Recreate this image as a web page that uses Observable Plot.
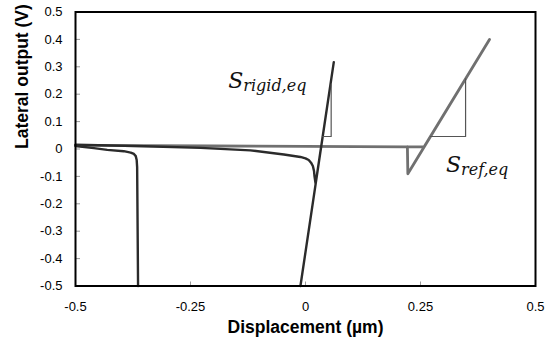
<!DOCTYPE html>
<html><head><meta charset="utf-8">
<script src="https://cdn.jsdelivr.net/npm/d3@7"></script>
<script src="https://cdn.jsdelivr.net/npm/@observablehq/plot@0.6"></script>
<style>html,body{margin:0;padding:0;background:#fff}</style>
</head><body><div id="chart"></div>
<script>
// Tick values
const xTicks = [-0.5, -0.25, 0, 0.25, 0.5];
const yTicks = [-0.5, -0.4, -0.3, -0.2, -0.1, 0, 0.1, 0.2, 0.3, 0.4, 0.5];

// Reference (gray) curve: approach, snap, rise, return
const refX = [-0.5, -0.2, 0.2215, 0.2225, 0.400, 0.258, 0.222];
const refY = [0.013, 0.011, 0.008, -0.0905, 0.400, 0.008, 0.008];

// Rigid (dark) curve: approach, snap-in, steep rise, retract
const rigidX = [-0.5, -0.35, -0.228, -0.12, -0.047, -0.011, 0.000, 0.007, 0.012, 0.0160, 0.0185, 0.0196, 0.022, 0.0615, -0.011];
const rigidY = [0.016, 0.010, 0.004, -0.005, -0.020, -0.029, -0.034, -0.040, -0.050, -0.062, -0.080, -0.100, -0.127, 0.317, -0.5];

// Left dark curve
const leftX = [-0.5, -0.46, -0.431, -0.395, -0.380, -0.373, -0.369, -0.367, -0.366, -0.364];
const leftY = [0.011, 0.003, -0.003, -0.008, -0.013, -0.018, -0.026, -0.040, -0.066, -0.5];

// Slope triangles
const triRigidX = [0.0374, 0.0558, 0.0558];
const triRigidY = [0.0456, 0.0456, 0.235];
const triRefX = [0.2718, 0.348, 0.348];
const triRefY = [0.0456, 0.0456, 0.256];

// Annotation labels
const labelMain = ["S", "S"];
const labelSub = ["rigid,eq", "ref,eq"];
const labelX = [-0.167, 0.3065];
const labelY = [0.221, -0.086];

const toPts = (xs, ys) => xs.map((x, i) => ({x, y: ys[i]}));

const chart = Plot.plot({
  width: 551,
  height: 349,
  marginLeft: 75,
  marginRight: 16,
  marginTop: 11.5,
  marginBottom: 63.5,
  style: {fontFamily: "'Liberation Sans', Arial, sans-serif", background: "#fff", color: "#000"},
  x: {domain: [-0.5, 0.5]},
  y: {domain: [-0.5, 0.5]},
  marks: [
    // inward ticks
    Plot.axisX({ticks: xTicks, tickSize: -4, stroke: "#999", tickFormat: () => "", label: null}),
    Plot.axisY({ticks: yTicks, tickSize: -5, stroke: "#999", tickFormat: () => "", label: null}),
    // tick labels
    Plot.axisX({ticks: xTicks, tickSize: 0, tickPadding: 16, fontSize: 13, tickFormat: d => String(d), label: null}),
    Plot.axisY({ticks: yTicks, tickSize: 0, tickPadding: 13, fontSize: 13, tickFormat: d => String(d), label: null}),
    // data
    Plot.line(toPts(refX, refY), {x: "x", y: "y", stroke: "#707070", strokeWidth: 2.8}),
    Plot.line(toPts(leftX, leftY), {x: "x", y: "y", stroke: "#2b2b2b", strokeWidth: 2.4}),
    Plot.line(toPts(rigidX, rigidY), {x: "x", y: "y", stroke: "#2b2b2b", strokeWidth: 2.4}),
    Plot.line(toPts(triRigidX, triRigidY), {x: "x", y: "y", stroke: "#555", strokeWidth: 1.2}),
    Plot.line(toPts(triRefX, triRefY), {x: "x", y: "y", stroke: "#555", strokeWidth: 1.2}),
    Plot.frame({stroke: "#000", strokeWidth: 2}),
    // axis titles
    Plot.text(["Displacement (µm)"], {frameAnchor: "bottom", dy: 47, fontSize: 17.5, fontWeight: "bold"}),
    Plot.text(["Lateral output (V)"], {frameAnchor: "left", dx: -53, rotate: -90, fontSize: 17.5, fontWeight: "bold"})
  ]
});

document.getElementById("chart").appendChild(chart);

// Subscripted annotations positioned through the plot's scales
const sx = chart.scale("x"), sy = chart.scale("y");
const svg = d3.select(chart);
labelMain.forEach((m, i) => {
  const t = svg.append("text")
    .attr("x", sx.apply(labelX[i]))
    .attr("y", sy.apply(labelY[i]))
    .attr("text-anchor", "start")
    .attr("font-family", "'DejaVu Serif', serif")
    .attr("font-style", "italic")
    .attr("fill", "#111");
  t.append("tspan").attr("font-size", 22).text(m);
  t.append("tspan").attr("font-size", 16).attr("dy", 3).text(labelSub[i]);
});
</script>
</body></html>
